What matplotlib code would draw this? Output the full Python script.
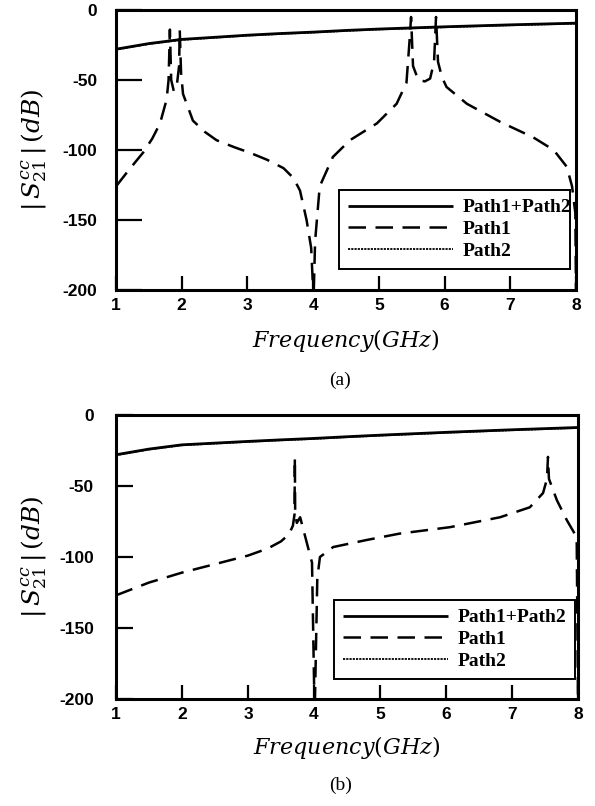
import matplotlib
matplotlib.use("Agg")
import matplotlib.pyplot as plt

# ---------------- data ----------------
# Panel (a)
a_sum_f = [1.0, 1.5, 2.0, 2.5, 3.0, 3.5, 4.0, 4.5, 5.0, 5.5, 6.0, 6.5, 7.0, 7.5, 8.0]
a_sum_db = [-28, -24, -21, -19.5, -18, -16.8, -15.8, -14.6, -13.6, -12.8, -12, -11.3, -10.6, -10, -9.4]
a_p2_f = a_sum_f
a_p2_db = [-28.3, -24.3, -21.3, -19.8, -18.3, -17.1, -16.1, -14.9, -13.9, -13.1, -12.3, -11.6, -10.9, -10.3, -9.7]
a_p1_f = [1.0, 1.2, 1.41, 1.55, 1.67, 1.77, 1.80, 1.82, 1.84, 1.88, 1.93, 1.96, 1.97, 1.99, 2.02,
          2.1, 2.17, 2.35, 2.53, 2.8, 3.04, 3.3, 3.55, 3.7, 3.8, 3.9, 3.97, 4.0,
          4.01, 4.03, 4.1, 4.3, 4.56, 4.97, 5.27, 5.42, 5.47, 5.49, 5.52, 5.6, 5.7, 5.78, 5.84,
          5.87, 5.9, 5.96, 6.03, 6.34, 6.85, 7.35, 7.66, 7.86, 7.94, 7.99, 8.0]
a_p1_db = [-126, -114, -102, -92, -81, -64, -50, -14, -50, -58, -52, -40, -14, -45, -60,
           -70, -79, -87, -93, -98, -102, -107, -113, -120, -129, -150, -170, -200,
           -200, -165, -126, -105, -93, -81, -67, -52, -20, -5, -40, -50, -51, -49, -37,
           -5, -37, -48, -55, -67, -80, -91, -100, -112, -126, -145, -200]

# Panel (b)
b_sum_f = [1.0, 1.5, 2.0, 2.5, 3.0, 3.5, 4.0, 4.5, 5.0, 5.5, 6.0, 6.5, 7.0, 7.5, 8.0]
b_sum_db = [-28, -24, -21, -19.8, -18.6, -17.5, -16.5, -15.3, -14.2, -13.2, -12.2, -11.3, -10.4, -9.6, -8.8]
b_p2_f = b_sum_f
b_p2_db = [-28.3, -24.3, -21.3, -20.1, -18.9, -17.8, -16.8, -15.6, -14.5, -13.5, -12.5, -11.6, -10.7, -9.9, -9.1]
b_p1_f = [1.0, 1.5, 2.0, 2.5, 3.0, 3.3, 3.5, 3.62, 3.68, 3.705, 3.71, 3.715, 3.74, 3.79, 3.88, 3.97, 4.005,
          4.015, 4.05, 4.09, 4.29, 4.8, 5.3, 6.06, 6.82, 7.27, 7.47, 7.53, 7.545, 7.56, 7.68, 7.83, 7.98, 8.0]
b_p1_db = [-127, -118, -111, -105, -99, -94, -89, -84, -78, -70, -30, -70, -76, -72, -88, -104, -200,
           -200, -115, -100, -93, -88, -83.5, -79, -72, -65, -55, -45, -29.5, -45, -60, -74, -86, -200]

x_ticks = [1, 2, 3, 4, 5, 6, 7, 8]
y_ticks = [0, -50, -100, -150, -200]
legend_labels = ["Path1+Path2", "Path1", "Path2"]
captions = ["(a)", "(b)"]

# ---------------- figure ----------------
fig = plt.figure(figsize=(5.95, 8.06), dpi=100)

W, H = 595.0, 806.0
boxes = [(116, 10, 576, 290), (116, 415, 578, 699)]
ytick_len = [19, 12]
ylab_pad = [13.5, 16]
xlab_top = [327, 734]
cap_y = [380, 785]
legend_boxes = [(339, 190, 570, 267), (334, 600, 575, 678)]

panels = [
    (a_sum_f, a_sum_db, a_p1_f, a_p1_db, a_p2_f, a_p2_db),
    (b_sum_f, b_sum_db, b_p1_f, b_p1_db, b_p2_f, b_p2_db),
]

for i, (sf, sd, p1f, p1d, p2f, p2d) in enumerate(panels):
    x0, y0, x1, y1 = boxes[i]
    ax = fig.add_axes([x0 / W, 1 - y1 / H, (x1 - x0) / W, (y1 - y0) / H])
    l1, = ax.plot(sf, sd, color="black", lw=2.0, solid_capstyle="butt")
    l2, = ax.plot(p1f, p1d, color="black", lw=1.8, dashes=(7, 3.8))
    l3, = ax.plot(p2f, p2d, color="black", lw=1.3, dashes=(1.2, 0.6))
    ax.set_xlim(1, 8)
    ax.set_ylim(-200, 0)
    ax.set_xticks(x_ticks)
    ax.set_yticks(y_ticks)
    ax.set_xticklabels([str(t) for t in x_ticks], fontfamily="Liberation Sans",
                       fontweight="bold", fontsize=12.5)
    ax.set_yticklabels([str(t) for t in y_ticks], fontfamily="Liberation Sans",
                       fontweight="bold", fontsize=12.5)
    ax.tick_params(axis="y", direction="in", length=ytick_len[i], width=1.6,
                   pad=ylab_pad[i], right=False)
    ax.tick_params(axis="x", direction="in", length=10, width=1.6, pad=6, top=False)
    for sp in ax.spines.values():
        sp.set_linewidth(2.2)
    ax.set_ylabel(r"$|\,S_{21}^{cc}\,|\,(dB)$", fontsize=18, math_fontfamily="dejavuserif")
    ax.yaxis.set_label_coords((48 - x0) / (x1 - x0), 0.5)
    ax.set_xlabel(r"$Frequency\mathrm{(}GHz\mathrm{)}$", fontsize=16,
                  math_fontfamily="dejavuserif")
    ax.xaxis.set_label_coords(0.5, (y1 - xlab_top[i]) / (y1 - y0))

    lx0, ly0, lx1, ly1 = legend_boxes[i]
    leg = ax.legend([l1, l2, l3], legend_labels,
                    loc="upper left",
                    bbox_to_anchor=((lx0 - x0) / (x1 - x0), (y1 - ly1) / (y1 - y0),
                                    (lx1 - lx0) / (x1 - x0), (ly1 - ly0) / (y1 - y0)),
                    mode="expand", fancybox=False, framealpha=1, edgecolor="black",
                    handlelength=5.4, handletextpad=0.5, borderpad=0.45, labelspacing=0.22,
                    borderaxespad=0,
                    prop={"family": "Liberation Serif", "size": 14, "weight": "bold"})
    leg.get_frame().set_linewidth(1.4)

    fig.text((x0 + x1) / 2 / W - 0.01, 1 - cap_y[i] / H, captions[i],
             ha="center", va="center", fontfamily="Liberation Serif", fontsize=14)

fig.savefig("out.png", dpi=100)
